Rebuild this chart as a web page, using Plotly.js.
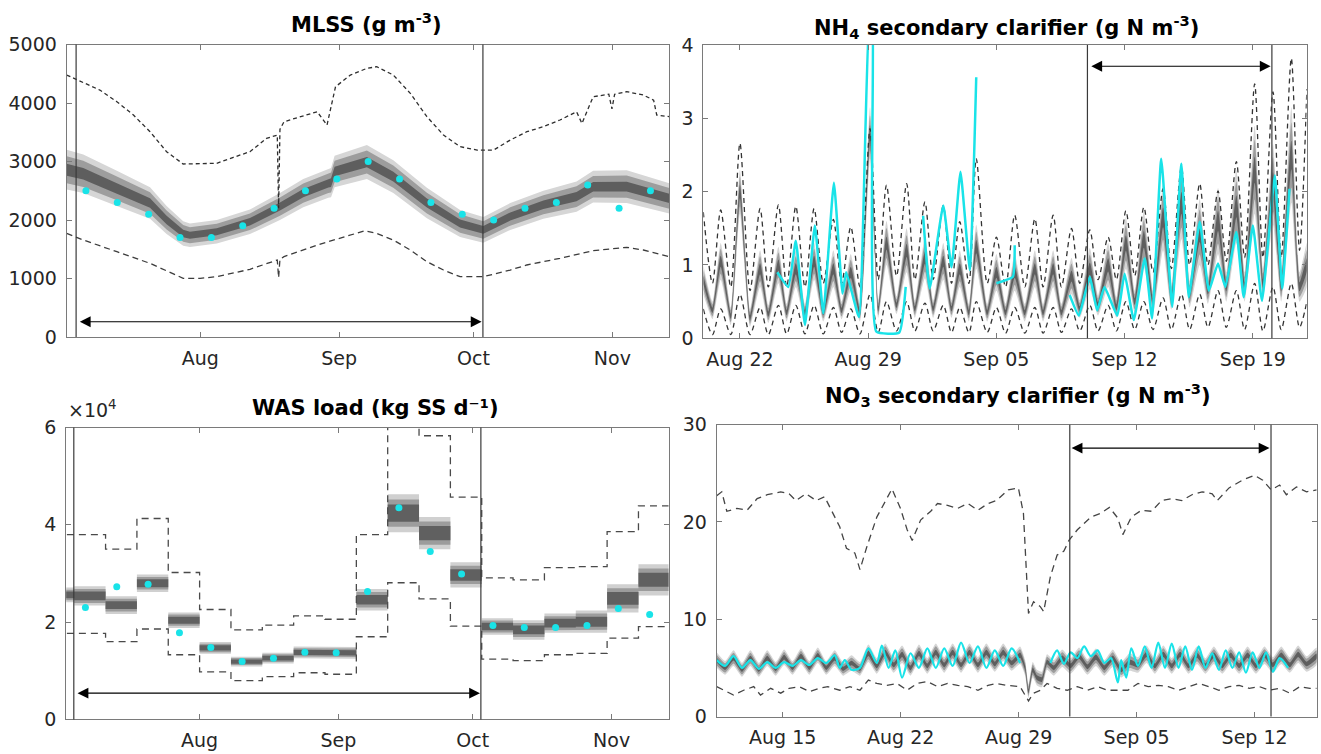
<!DOCTYPE html>
<html><head><meta charset="utf-8">
<script src="https://cdn.plot.ly/plotly-3.0.1.min.js"></script>
<style>html,body{margin:0;padding:0;background:#fff;}#chart{width:1321px;height:754px;}</style>
</head><body><div id="chart"></div>
<script>
// ================= DATA =================
// ---- MLSS (g m-3), days from base ----
const mlssBase = '2019-07-02T05:00';
const mlssRangeDays = [0, 134.5];
const mlssBandDays = [0, 3.7, 11.2, 18.6, 22.3, 26, 27.5, 33.5, 40.9, 47.6, 52.8, 58.4, 59.0, 59.8, 67, 72.9, 80.4, 87.8, 93, 99, 106.4, 113.8, 117.5, 125, 130.2, 134.5];
const mlssMid = [2860, 2790, 2540, 2290, 2000, 1770, 1740, 1800, 1970, 2230, 2460, 2630, 2640, 2830, 2990, 2740, 2290, 1940, 1830, 2060, 2260, 2400, 2570, 2570, 2460, 2370];
const mlssHalfW = [340, 330, 300, 270, 240, 210, 200, 200, 210, 230, 240, 250, 250, 270, 290, 280, 260, 230, 220, 230, 240, 260, 270, 280, 270, 260];
const mlssMaxDays = [0, 3.7, 7.4, 11.2, 14.9, 18.6, 22.3, 26, 29.8, 33.5, 37.2, 40.9, 44.6, 47.0, 47.3, 47.6, 48.5, 52.2, 55.9, 58.1, 60, 63.3, 67, 69.2, 72.9, 76.7, 80.4, 84.1, 87.8, 91.6, 95.3, 99, 102.7, 106.4, 110.1, 113.8, 115, 117.5, 121, 121.7, 122.3, 125, 128.7, 131, 131.7, 134.5];
const mlssMax = [4478, 4352, 4221, 4022, 3794, 3509, 3167, 2957, 2968, 2970, 3071, 3167, 3395, 3452, 2200, 3550, 3680, 3766, 3851, 3623, 4278, 4478, 4592, 4620, 4478, 4164, 3766, 3452, 3253, 3196, 3196, 3367, 3509, 3595, 3709, 3851, 3650, 4107, 4150, 3900, 4150, 4193, 4136, 4050, 3794, 3766];
const mlssMinDays = [0, 3.7, 11.2, 18.6, 26, 29.8, 33.5, 40.9, 47.0, 47.3, 47.6, 48.5, 55.9, 63.3, 66.5, 69.2, 72.9, 76.7, 80.4, 84.1, 87.8, 93, 99, 102.7, 110.1, 117.5, 125, 128.7, 134.5];
const mlssMin = [1772, 1658, 1458, 1259, 1003, 1003, 1031, 1157, 1316, 1015, 1330, 1373, 1572, 1743, 1815, 1772, 1658, 1487, 1287, 1145, 1031, 1031, 1145, 1231, 1345, 1475, 1533, 1487, 1373];
const weeklyObsDates = ['2019-07-06 12:00', '2019-07-13 12:00', '2019-07-20 12:00', '2019-07-27 12:00', '2019-08-03 12:00', '2019-08-10 12:00', '2019-08-17 12:00', '2019-08-24 12:00', '2019-08-31 12:00', '2019-09-07 12:00', '2019-09-14 12:00', '2019-09-21 12:00', '2019-09-28 12:00', '2019-10-05 12:00', '2019-10-12 12:00', '2019-10-19 12:00', '2019-10-26 12:00', '2019-11-02 12:00', '2019-11-09 12:00'];
const mlssObs = [2500, 2300, 2100, 1700, 1700, 1900, 2200, 2500, 2700, 3000, 2700, 2300, 2100, 2000, 2200, 2300, 2600, 2200, 2500];
const mlssVlineDays = [2.1, 92.9];
const mlssArrowDays = [2.6, 92.6];
const mlssArrowY = 261;
const monthTickVals = ['2019-08-01', '2019-09-01', '2019-10-01', '2019-11-01'];
const monthTickText = ['Aug', 'Sep', 'Oct', 'Nov'];

// ---- NH4 secondary clarifier (g N m-3) ----
const nhBase = '2019-08-20T00:00';
const nhRangeDays = [0, 32.94];
const nhDays = [0, 0.5, 0.95, 1.5, 2.0, 2.55, 3.1, 3.55, 4.1, 4.55, 5.05, 5.55, 6.05, 6.55, 7.1, 7.55, 8.05, 8.55, 9.1, 9.55, 10.0, 10.55, 11.1, 11.55, 12.1, 12.55, 13.1, 13.55, 14.0, 14.5, 14.9, 15.5, 16.0, 16.5, 17.0, 17.55, 18.1, 18.55, 19.1, 19.55, 20.1, 20.55, 21.1, 21.55, 22.1, 22.55, 23.07, 23.55, 24.05, 24.55, 25.1, 25.55, 26.1, 26.55, 27.1, 27.55, 28.1, 28.55, 29.1, 29.55, 30.1, 30.55, 31.1, 31.55, 32.1, 32.55, 32.95];
const nhMid = [0.80, 0.38, 1.05, 0.30, 2.00, 0.28, 0.95, 0.33, 1.00, 0.35, 0.95, 0.35, 1.05, 0.35, 0.95, 0.38, 0.90, 0.35, 2.80, 0.40, 1.30, 0.45, 1.20, 0.40, 1.10, 0.40, 1.05, 0.40, 0.95, 0.35, 1.25, 0.35, 0.90, 0.35, 0.90, 0.35, 0.95, 0.35, 0.95, 0.35, 0.85, 0.40, 0.95, 0.45, 1.00, 0.42, 1.30, 0.50, 1.35, 0.50, 1.65, 0.55, 1.85, 0.60, 1.45, 0.65, 1.60, 0.70, 1.80, 0.70, 2.30, 0.75, 2.10, 0.70, 2.50, 0.70, 1.00];
const nhHalfW = [0.2, 0.12, 0.25, 0.12, 0.3, 0.12, 0.25, 0.12, 0.25, 0.12, 0.25, 0.12, 0.25, 0.12, 0.25, 0.12, 0.25, 0.12, 0.35, 0.12, 0.3, 0.12, 0.3, 0.12, 0.28, 0.12, 0.25, 0.12, 0.25, 0.12, 0.3, 0.12, 0.25, 0.12, 0.25, 0.12, 0.25, 0.12, 0.25, 0.12, 0.25, 0.12, 0.28, 0.14, 0.3, 0.14, 0.35, 0.15, 0.38, 0.15, 0.45, 0.16, 0.5, 0.18, 0.45, 0.18, 0.45, 0.2, 0.5, 0.2, 0.6, 0.2, 0.55, 0.2, 0.65, 0.2, 0.3];
const nhMax = [1.72, 0.75, 1.75, 0.70, 2.66, 0.65, 1.77, 0.70, 1.82, 0.70, 1.80, 0.70, 1.77, 0.75, 1.62, 0.75, 1.52, 0.70, 2.86, 0.80, 2.09, 0.85, 2.11, 0.80, 1.86, 0.80, 1.81, 0.75, 1.59, 0.75, 2.45, 0.75, 1.38, 0.70, 1.68, 0.70, 1.63, 0.70, 1.68, 0.70, 1.50, 0.75, 1.48, 0.80, 1.38, 0.80, 1.74, 0.85, 1.79, 0.90, 2.04, 0.95, 2.34, 1.00, 2.11, 1.00, 2.01, 1.05, 2.41, 1.10, 3.47, 1.10, 3.36, 1.10, 3.82, 1.20, 3.40];
const nhMin = [0.40, 0.05, 0.40, 0.05, 0.60, 0.05, 0.42, 0.05, 0.45, 0.06, 0.45, 0.06, 0.45, 0.06, 0.42, 0.08, 0.40, 0.06, 0.60, 0.08, 0.50, 0.10, 0.50, 0.10, 0.48, 0.10, 0.45, 0.08, 0.42, 0.08, 0.50, 0.08, 0.42, 0.07, 0.42, 0.07, 0.42, 0.07, 0.42, 0.08, 0.40, 0.10, 0.45, 0.10, 0.45, 0.10, 0.50, 0.12, 0.50, 0.12, 0.55, 0.12, 0.60, 0.12, 0.60, 0.15, 0.65, 0.15, 0.65, 0.12, 0.75, 0.10, 0.70, 0.12, 0.75, 0.15, 0.50];
const nhObsDays = [4.04, 4.64, 5.05, 5.55, 6.09, 6.55, 7.13, 7.6, 7.8, 8.5, 9.1, 9.22, 9.45, 10.7, 11.05, null, 12.0, 12.36, 13.1, 13.55, 14.04, 14.55, 14.9, null, 16.0, 16.9, 17.0, null, 20.0, 20.5, 21.1, 21.5, 21.9, 22.6, 23.0, 23.5, 24.1, 24.5, 25.0, 25.6, 26.1, 26.5, 27.1, 27.6, 28.1, 28.5, 29.1, 29.5, 30.0, 30.5, 31.2, 31.6, 32.0];
const nhObs = [0.90, 0.70, 1.33, 0.18, 1.54, 0.34, 2.12, 0.61, 0.90, 0.29, 4.50, 4.50, 0.09, 0.08, 0.70, null, 1.67, 0.68, 1.81, 0.97, 2.27, 0.93, 3.56, null, 0.75, 0.84, 1.27, null, 0.59, 0.31, 0.84, 0.38, 0.70, 0.31, 0.88, 0.25, 1.09, 0.27, 2.45, 0.43, 2.38, 0.56, 1.59, 0.65, 1.02, 0.70, 1.45, 0.56, 1.54, 0.51, 2.22, 0.68, 2.04];
const nhVlineDays = [20.97, 31.04];
const nhArrowDays = [21.1, 30.97];
const nhArrowY = 3.71;
const nhTickVals = ['2019-08-22', '2019-08-29', '2019-09-05', '2019-09-12', '2019-09-19'];
const nhTickText = ['Aug 22', 'Aug 29', 'Sep 05', 'Sep 12', 'Sep 19'];

// ---- WAS load (kg SS d-1), weekly ----
const wasWeekStarts = ['2019-06-27', '2019-07-04', '2019-07-11', '2019-07-18', '2019-07-25', '2019-08-01', '2019-08-08', '2019-08-15', '2019-08-22', '2019-08-29', '2019-09-05', '2019-09-12', '2019-09-19', '2019-09-26', '2019-10-03', '2019-10-10', '2019-10-17', '2019-10-24', '2019-10-31', '2019-11-07'];
const wasWeekEnd = '2019-11-14';
const wasMid = [25600, 25400, 23500, 28000, 20400, 14700, 11900, 12600, 13800, 13700, 24600, 42400, 38300, 29700, 19100, 18400, 19800, 20100, 24900, 28700];
const wasHalfW = [1500, 2000, 1800, 1800, 1600, 1200, 1000, 1100, 1200, 1200, 2200, 3900, 3300, 2600, 1700, 2000, 2000, 2300, 2900, 3200];
const wasMax = [38000, 38000, 35000, 41300, 30200, 22600, 18400, 19400, 21300, 20600, 38000, 65000, 58300, 45700, 29100, 28700, 31200, 31400, 38600, 43900];
const wasMin = [17700, 17700, 16000, 18600, 13300, 9800, 8000, 8800, 9600, 9300, 17000, 28100, 24800, 19200, 12400, 12100, 13300, 13600, 16700, 19100];
const wasObs = [23000, 27300, 27800, 17800, 14800, 11900, 12600, 13800, 13700, 26300, 43500, 34500, 29900, 19300, 18900, 18900, 19300, 22800, 21600];
const wasVlineDays = [1.7, 92.6];
const wasArrowDays = [2.2, 92.4];
const wasArrowY = 5400;
const wasTickVals = [0, 20000, 40000, 60000];
const wasTickText = ['0', '2', '4', '6'];

// ---- NO3 secondary clarifier (g N m-3) ----
const noBase = '2019-08-11T02:00';
const noRangeDays = [0, 35.6];
const noBandDays = [0, 0.5, 1, 1.5, 2, 2.5, 3, 3.5, 4, 4.5, 5, 5.5, 6, 6.5, 7, 7.5, 8, 8.5, 9, 9.5, 10, 10.5, 11, 11.5, 12, 12.5, 13, 13.5, 14, 14.5, 15, 15.5, 16, 16.5, 17, 17.5, 18, 18.3, 18.5, 18.75, 19.0, 19.3, 19.6, 20, 20.5, 21, 21.5, 22, 22.5, 23, 23.5, 24, 24.5, 25, 25.5, 26, 26.5, 27, 27.5, 28, 28.5, 29, 29.5, 30, 30.5, 31, 31.5, 32, 32.5, 33, 33.5, 34, 34.5, 35, 35.6];
const noMid = [5.8, 5.0, 6.0, 4.8, 6.0, 4.8, 6.0, 4.9, 6.1, 5.0, 6.2, 5.0, 6.3, 5.0, 6.0, 4.9, 5.5, 4.9, 6.5, 5.2, 6.6, 5.3, 6.4, 5.0, 6.5, 5.2, 6.6, 5.3, 6.6, 5.3, 6.6, 5.3, 6.6, 5.4, 6.6, 5.5, 6.3, 5.0, 2.6, 4.8, 4.0, 3.8, 5.6, 5.0, 6.0, 5.2, 6.2, 5.1, 6.1, 5.0, 6.0, 4.8, 5.6, 5.3, 6.4, 5.2, 6.4, 5.2, 6.4, 5.2, 6.3, 5.2, 6.3, 5.2, 6.3, 5.2, 6.3, 5.2, 6.3, 5.3, 6.3, 5.3, 6.4, 5.4, 6.2];
const noHalfW = [0.8, 0.7, 0.8, 0.7, 0.8, 0.7, 0.8, 0.7, 0.8, 0.7, 0.8, 0.7, 0.8, 0.7, 0.8, 0.7, 0.8, 0.7, 0.9, 0.8, 0.9, 0.8, 0.9, 0.8, 0.9, 0.8, 0.9, 0.8, 0.9, 0.8, 0.9, 0.8, 0.9, 0.8, 0.9, 0.8, 0.9, 0.8, 0.7, 0.8, 0.8, 0.8, 0.8, 0.8, 0.9, 0.8, 0.9, 0.8, 0.9, 0.8, 0.9, 0.8, 0.9, 0.8, 0.9, 0.8, 0.9, 0.8, 0.9, 0.8, 0.9, 0.8, 0.9, 0.8, 0.9, 0.8, 0.9, 0.8, 0.9, 0.8, 0.9, 0.8, 0.9, 0.8, 0.9];
const noMaxDays = [0, 0.3, 0.6, 1.2, 1.8, 2.4, 3.0, 3.8, 4.3, 4.7, 5.3, 5.9, 6.4, 6.8, 7.3, 7.7, 8.2, 8.5, 8.9, 9.5, 10.4, 10.9, 11.3, 11.6, 12.1, 12.7, 13.1, 13.7, 14.3, 14.9, 15.5, 16.1, 16.6, 17.3, 17.9, 18.2, 18.5, 18.8, 19.2, 19.4, 19.8, 20.2, 20.6, 20.9, 21.4, 22.2, 22.8, 23.3, 23.8, 24.1, 24.6, 25.2, 25.8, 26.4, 27.0, 27.6, 28.2, 28.8, 29.4, 29.7, 30.4, 31.2, 31.9, 32.4, 32.9, 33.4, 33.8, 34.4, 35.0, 35.6];
const noMax = [22.7, 23.1, 21.1, 21.4, 21.2, 22.4, 22.8, 23.1, 22.9, 22.2, 22.9, 22.2, 22.6, 21.2, 19.5, 17.3, 16.8, 15.1, 17.4, 20.5, 23.4, 21.4, 19.2, 18.1, 20.2, 21.1, 21.9, 21.7, 21.4, 21.9, 21.2, 21.9, 22.2, 23.3, 23.5, 20.9, 10.6, 11.8, 11.3, 10.8, 14.4, 16.6, 17.0, 18.1, 19.2, 20.5, 20.9, 21.5, 20.4, 18.7, 20.5, 21.2, 21.1, 22.2, 22.4, 22.2, 22.8, 23.1, 22.9, 22.2, 23.5, 24.3, 24.8, 24.3, 23.3, 23.8, 22.8, 23.6, 23.1, 23.3];
const noMinDays = [0, 0.6, 1.0, 1.6, 2.2, 2.6, 3.2, 3.8, 4.3, 4.9, 5.5, 6.1, 6.6, 7.3, 7.9, 8.5, 9.0, 9.5, 10.1, 10.7, 11.3, 11.9, 12.5, 13.1, 13.7, 14.3, 14.9, 15.5, 16.1, 16.6, 17.2, 18.0, 18.5, 18.8, 19.2, 19.6, 20.2, 20.8, 21.4, 22.0, 22.6, 23.2, 23.8, 24.4, 25.0, 25.6, 26.2, 26.8, 27.4, 28.0, 28.6, 29.2, 29.8, 30.4, 31.0, 31.6, 32.2, 32.8, 33.4, 34.0, 34.6, 35.2, 35.6];
const noMin = [3.07, 2.55, 2.2, 2.7, 3.07, 2.2, 2.9, 2.4, 2.9, 3.07, 2.55, 2.9, 3.07, 2.7, 3.07, 2.7, 3.75, 3.4, 3.2, 3.4, 2.7, 3.4, 3.6, 3.07, 3.4, 3.2, 3.07, 2.7, 3.2, 3.4, 3.2, 3.07, 1.6, 2.4, 2.7, 3.4, 2.9, 2.7, 3.07, 2.7, 3.07, 2.7, 2.7, 2.7, 3.4, 3.07, 3.2, 3.07, 2.7, 3.07, 3.4, 3.07, 2.7, 3.07, 3.2, 2.9, 3.07, 2.7, 2.9, 2.4, 3.07, 2.9, 2.9];
const noObsDays = [0, 0.5, 1.0, 1.5, 2.0, 2.5, 3.0, 3.5, 4.0, 4.5, 5.0, 5.5, 6.0, 6.5, 7.0, 7.3, 7.6, 8.0, 8.5, 9.0, 9.5, 9.8, 10.2, 10.6, 11.0, 11.5, 12.0, 12.5, 13.0, 13.5, 14.0, 14.5, 15.0, 15.5, 16.0, 16.5, 17.0, 17.5, 18.0, null, 19.8, 20.2, 20.6, 21.0, 21.4, 21.8, 22.2, 22.6, 23.0, 23.4, 23.8, 24.0, 24.3, 24.6, 25.0, 25.4, 25.8, 26.2, 26.6, 27.0, 27.4, 27.8, 28.2, 28.6, 29.0, 29.4, 29.8, 30.2, 30.6, 31.0, 31.4, 31.8, 32.2, 32.6, 33.0, 33.4, 33.9];
const noObs = [5.8, 5.2, 6.2, 5.0, 5.8, 4.9, 5.6, 5.0, 5.6, 5.2, 5.8, 5.3, 6.0, 5.5, 6.3, 5.0, 5.8, 4.8, 5.0, 7.0, 5.5, 7.3, 5.0, 6.8, 4.0, 6.5, 5.0, 7.0, 5.0, 7.0, 5.2, 7.6, 5.5, 7.2, 5.0, 6.8, 5.2, 7.0, 5.5, null, 5.5, 6.8, 5.4, 6.6, 6.0, 7.2, 6.2, 6.8, 5.5, 6.0, 3.5, 5.8, 4.0, 7.0, 5.2, 7.2, 5.0, 7.6, 5.0, 7.5, 5.0, 7.2, 4.8, 7.2, 5.0, 6.5, 4.8, 6.8, 5.0, 6.6, 4.5, 6.6, 5.0, 6.6, 4.6, 6.0, 5.0];
const noVlineDays = [20.95, 32.89];
const noArrowDays = [20.97, 32.8];
const noArrowY = 27.6;
const noTickVals = ['2019-08-15', '2019-08-22', '2019-08-29', '2019-09-05', '2019-09-12'];
const noTickText = ['Aug 15', 'Aug 22', 'Aug 29', 'Sep 05', 'Sep 12'];

// ================= HELPERS =================
const FONT = '"DejaVu Sans", Verdana, sans-serif';
const CYAN = '#19e3e8';
const SHADE = [{f: 1.0, c: '#d6d6d6'}, {f: 0.68, c: '#9d9d9d'}, {f: 0.3, c: '#5e5e5e'}];
function dt(base, d) {
  if (d === null) return null;
  const ms = Date.parse(base + ':00Z') + d * 864e5;
  return new Date(ms).toISOString().slice(0, 23).replace('T', ' ');
}
const dts = (base, arr) => arr.map(d => dt(base, d));
function bandTraces(xs, mid, hw, xa, ya, shape) {
  return SHADE.map(s => {
    const up = mid.map((m, i) => m + hw[i] * s.f);
    const lo = mid.map((m, i) => m - hw[i] * s.f);
    return {x: xs.concat(xs.slice().reverse()), y: up.concat(lo.slice().reverse()),
      type: 'scatter', mode: 'lines', fill: 'toself', fillcolor: s.c,
      line: {width: 0, shape: shape || 'linear', smoothing: 0.5},
      xaxis: xa, yaxis: ya, hoverinfo: 'skip'};
  });
}
function stepBandTraces(starts, end, mid, hw, xa, ya) {
  const colors = ['#d0d0d0', '#9c9c9c', '#606060'];
  const fr = [1.0, 0.72, 0.45];
  return fr.map((f, k) => {
    const xu = [], yu = [], xl = [], yl = [];
    for (let i = 0; i < starts.length; i++) {
      const e = i + 1 < starts.length ? starts[i + 1] : end;
      xu.push(starts[i], e); yu.push(mid[i] + hw[i] * f, mid[i] + hw[i] * f);
    }
    for (let i = starts.length - 1; i >= 0; i--) {
      const e = i + 1 < starts.length ? starts[i + 1] : end;
      xl.push(e, starts[i]); yl.push(mid[i] - hw[i] * f, mid[i] - hw[i] * f);
    }
    return {x: xu.concat(xl), y: yu.concat(yl), type: 'scatter', mode: 'lines', fill: 'toself',
      fillcolor: colors[k], line: {width: 0}, xaxis: xa, yaxis: ya, hoverinfo: 'skip'};
  });
}
function dashed(x, y, xa, ya, dash, color, shape) {
  return {x, y, type: 'scatter', mode: 'lines', xaxis: xa, yaxis: ya,
    line: {color, width: 1.3, dash, shape: shape || 'linear', smoothing: 0.8}, hoverinfo: 'skip'};
}

// ================= TRACES =================
const traces = [];
// MLSS
const mB = dts(mlssBase, mlssBandDays);
traces.push(...bandTraces(mB, mlssMid, mlssHalfW, 'x', 'y'));
traces.push(dashed(dts(mlssBase, mlssMaxDays), mlssMax, 'x', 'y', '4px,3px', '#2e2e2e'));
traces.push(dashed(dts(mlssBase, mlssMinDays), mlssMin, 'x', 'y', '6px,4px', '#3c3c3c'));
traces.push({x: weeklyObsDates, y: mlssObs, type: 'scatter', mode: 'markers', xaxis: 'x', yaxis: 'y',
  marker: {color: CYAN, size: 7, symbol: 'circle'}});
// NH4
const nB = dts(nhBase, nhDays);
traces.push(...bandTraces(nB, nhMid, nhHalfW, 'x2', 'y2', 'spline'));
traces.push(dashed(nB, nhMax, 'x2', 'y2', '5px,4px', '#333', 'spline'));
traces.push(dashed(nB, nhMin, 'x2', 'y2', '5px,4px', '#333', 'spline'));
traces.push({x: dts(nhBase, nhObsDays), y: nhObs, type: 'scatter', mode: 'lines', xaxis: 'x2', yaxis: 'y2',
  connectgaps: false, line: {color: CYAN, width: 2.5, shape: 'spline', smoothing: 0.4}});
// WAS
traces.push(...stepBandTraces(wasWeekStarts, wasWeekEnd, wasMid, wasHalfW, 'x3', 'y3'));
traces.push(dashed(wasWeekStarts.concat([wasWeekEnd]), wasMax.concat([wasMax[wasMax.length - 1]]), 'x3', 'y3', '7px,5px', '#4a4a4a', 'hv'));
traces.push(dashed(wasWeekStarts.concat([wasWeekEnd]), wasMin.concat([wasMin[wasMin.length - 1]]), 'x3', 'y3', '7px,5px', '#4a4a4a', 'hv'));
traces.push({x: weeklyObsDates, y: wasObs, type: 'scatter', mode: 'markers', xaxis: 'x3', yaxis: 'y3',
  marker: {color: CYAN, size: 7, symbol: 'circle'}});
// NO3
const oB = dts(noBase, noBandDays);
traces.push(...bandTraces(oB, noMid, noHalfW, 'x4', 'y4', 'spline'));
traces.push(dashed(dts(noBase, noMaxDays), noMax, 'x4', 'y4', '7px,5px', '#444'));
traces.push(dashed(dts(noBase, noMinDays), noMin, 'x4', 'y4', '7px,5px', '#444'));
traces.push({x: dts(noBase, noObsDays), y: noObs, type: 'scatter', mode: 'lines', xaxis: 'x4', yaxis: 'y4',
  connectgaps: false, line: {color: CYAN, width: 2.2, shape: 'spline', smoothing: 0.8}});

// ================= LAYOUT =================
const axisBase = {showline: true, linecolor: '#7a7a7a', linewidth: 1, mirror: 'ticks', ticks: 'inside',
  ticklen: 5, tickwidth: 1, tickcolor: '#7a7a7a', showgrid: false, zeroline: false,
  tickfont: {family: FONT, size: 19, color: '#262626'}};
const xA = (dom, anchor, range, tv, tt) => Object.assign({}, axisBase, {domain: dom, anchor, type: 'date',
  range, tickvals: tv, ticktext: tt, ticklabelstandoff: 4});
const yA = (dom, anchor, range, extra) => Object.assign({}, axisBase, {domain: dom, anchor, range,
  ticklabelstandoff: 5}, extra || {});

const shapes = [];
function vlines(base, days, xa, ya) {
  days.forEach(d => shapes.push({type: 'line', xref: xa, yref: ya + ' domain', x0: dt(base, d), x1: dt(base, d),
    y0: 0, y1: 1, line: {color: '#3a3a3a', width: 1.2}}));
}
vlines(mlssBase, mlssVlineDays, 'x', 'y');
vlines(nhBase, nhVlineDays, 'x2', 'y2');
vlines(mlssBase, wasVlineDays, 'x3', 'y3');
vlines(noBase, noVlineDays, 'x4', 'y4');

const annotations = [];
function arrow(base, days, yv, xa, ya) {
  annotations.push({xref: xa, yref: ya, axref: xa, ayref: ya, x: dt(base, days[1]), y: yv,
    ax: dt(base, days[0]), ay: yv, text: '', showarrow: true, arrowside: 'end+start',
    arrowhead: 2, startarrowhead: 2, arrowsize: 1.8, startarrowsize: 1.8, arrowwidth: 1.2, arrowcolor: '#000'});
}
arrow(mlssBase, mlssArrowDays, mlssArrowY, 'x', 'y');
arrow(nhBase, nhArrowDays, nhArrowY, 'x2', 'y2');
arrow(mlssBase, wasArrowDays, wasArrowY, 'x3', 'y3');
arrow(noBase, noArrowDays, noArrowY, 'x4', 'y4');

const tFont = {family: FONT, size: 21, color: '#000', weight: 'bold'};
function title(text, px, py) {
  annotations.push({xref: 'paper', yref: 'paper', x: px / 1321, y: 1 - py / 754, xanchor: 'center', yanchor: 'middle',
    text: '<b>' + text + '</b>', showarrow: false, font: tFont});
}
title('MLSS (g m<sup>-3</sup>)', 366, 23);
title('NH<sub>4</sub> secondary clarifier (g N m<sup>-3</sup>)', 1006, 27);
title('WAS load (kg SS d⁻¹)', 375, 408);
title('NO<sub>3</sub> secondary clarifier (g N m<sup>-3</sup>)', 1018, 395);
annotations.push({xref: 'paper', yref: 'paper', x: 66 / 1321, y: 1 - 409 / 754, xanchor: 'left', yanchor: 'middle',
  text: '×10<sup>4</sup>', showarrow: false, font: {family: FONT, size: 19, color: '#262626'}});

const layout = {
  width: 1321, height: 754, margin: {l: 0, r: 0, t: 0, b: 0}, paper_bgcolor: '#fff', plot_bgcolor: '#fff',
  showlegend: false, shapes, annotations,
  xaxis: xA([0.05049, 0.50666], 'y', dts(mlssBase, mlssRangeDays), monthTickVals, monthTickText),
  yaxis: yA([0.55305, 0.94098], 'x', [0, 5000], {dtick: 1000}),
  xaxis2: xA([0.53240, 0.98917], 'y2', dts(nhBase, nhRangeDays), nhTickVals, nhTickText),
  yaxis2: yA([0.55133, 0.94032], 'x2', [0, 4], {dtick: 1}),
  xaxis3: xA([0.05011, 0.50606], 'y3', dts(mlssBase, mlssRangeDays), monthTickVals, monthTickText),
  yaxis3: yA([0.04576, 0.43302], 'x3', [0, 60000], {tickvals: wasTickVals, ticktext: wasTickText}),
  xaxis4: xA([0.54254, 0.99674], 'y4', dts(noBase, noRangeDays), noTickVals, noTickText),
  yaxis4: yA([0.04973, 0.43674], 'x4', [0, 30], {dtick: 10})
};
Plotly.newPlot('chart', traces, layout, {displayModeBar: false, staticPlot: true});
</script>
</body></html>
